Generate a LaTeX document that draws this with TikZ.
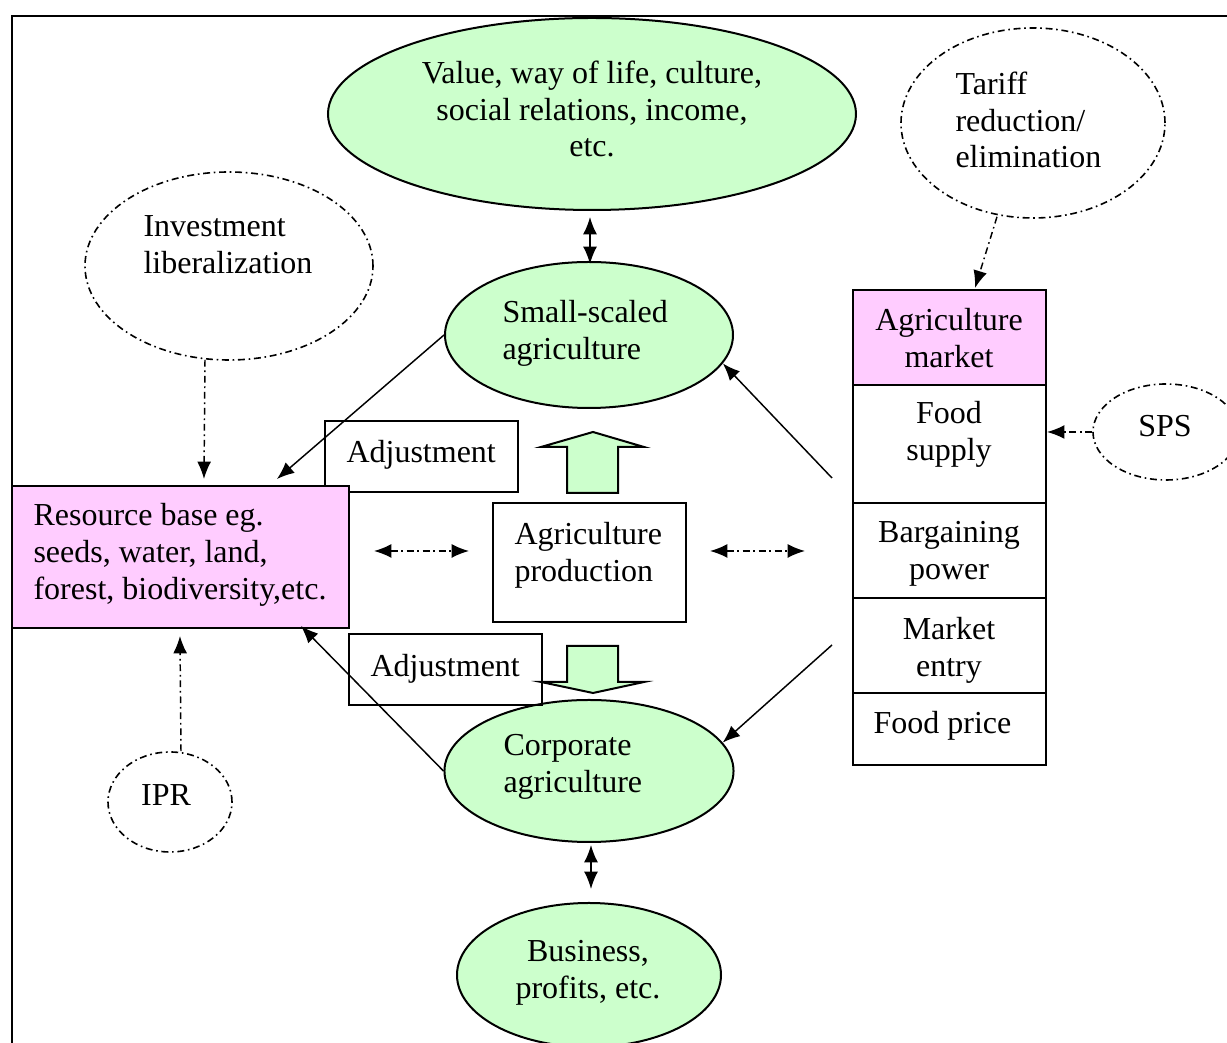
\documentclass[tikz,border=0pt]{standalone}
\usepackage{fontspec}
\setmainfont{Liberation Serif}
\usetikzlibrary{arrows.meta,shapes.geometric,calc}
\definecolor{lgreen}{RGB}{204,255,204}
\definecolor{lpink}{RGB}{255,204,255}
\begin{document}
\begin{tikzpicture}[x=0.375pt,y=-0.375pt,
  txt/.style={font=\fontsize{12}{13.8}\selectfont, inner sep=0pt, align=left},
  ctxt/.style={font=\fontsize{12}{13.8}\selectfont, inner sep=0pt, align=center},
  gell/.style={ellipse, draw, line width=0.75pt, fill=lgreen, inner sep=0pt},
  ddot/.style={dash pattern=on 2.6pt off 1.4pt on 0.6pt off 1.4pt},
  dell/.style={ellipse, draw, line width=0.6pt, ddot, inner sep=0pt},
  box/.style={rectangle, draw, line width=0.75pt, inner sep=0pt},
  arr/.style={line width=0.55pt, -{Latex[length=6.5pt,width=5.2pt]}},
  darr/.style={line width=0.55pt, {Latex[length=6.5pt,width=5.2pt]}-{Latex[length=6.5pt,width=5.2pt]}},
  blockarrow/.style={draw, line width=0.75pt, fill=lgreen, line join=miter}
]
\useasboundingbox (0,0) rectangle (1227,1043);
\clip (0,0) rectangle (1227,1043);
\fill[white] (0,0) rectangle (1227,1043);
% frame
\draw[line width=1pt] (12,1050) -- (12,16) -- (1235,16);

% ellipses
\node[gell, minimum width=198pt, minimum height=72pt] (val) at (592,114) {};
\node[ctxt] (valt) at (592,109) {Value, way of life, culture,\\social relations, income,\\etc.};

\node[dell, minimum width=99pt, minimum height=71.25pt] (tar) at (1033,123) {};
\node[txt, anchor=west] (tart) at (955,120) {Tariff\\reduction/\\elimination};

\node[dell, minimum width=108pt, minimum height=70.5pt] (inv) at (229,266) {};
\node[txt, anchor=west] (invt) at (143,245) {Investment\\liberalization};

\node[gell, minimum width=108pt, minimum height=54.75pt] (small) at (589,335) {};
\node[txt, anchor=west] (smallt) at (502,333) {Small-scaled\\agriculture};

\node[gell, minimum width=108.4pt, minimum height=53.25pt] (corp) at (589,771) {};
\node[txt, anchor=west] (corpt) at (503,767) {Corporate\\agriculture};

\node[gell, minimum width=99pt, minimum height=54pt] (bus) at (589,975) {};
\node[ctxt] (bust) at (588,973) {Business,\\profits, etc.};

\node[dell, minimum width=46.5pt, minimum height=37.5pt] (ipr) at (170,802) {};
\node[ctxt] (iprt) at (166,795) {IPR};

\node[dell, minimum width=54.75pt, minimum height=36pt] (sps) at (1166,432) {};
\node[ctxt] (spst) at (1165,426) {SPS};

% boxes
\node[box, minimum width=72.4pt, minimum height=26.6pt] (adj1) at (421.5,456.5) {};
\node[txt, anchor=west] (adj1t) at (346,455) {Adjustment};

\node[box, fill=lpink, minimum width=126.4pt, minimum height=53.25pt] (res) at (180.5,557) {};
\node[txt, anchor=west] (rest) at (33,555) {Resource base eg.\\seeds, water, land,\\forest, biodiversity,etc.};

\node[box, minimum width=72.4pt, minimum height=44.6pt] (prod) at (589.5,562.5) {};
\node[txt, anchor=west] (prodt) at (514,555.5) {Agriculture\\production};

\node[box, minimum width=72.4pt, minimum height=26.6pt] (adj2) at (445.5,669.5) {};
\node[txt, anchor=west] (adj2t) at (370,669) {Adjustment};

% market column
\node[box, fill=lpink, minimum width=72.4pt, minimum height=35.6pt] (mkt) at (949.5,337.5) {};
\node[ctxt] (mktt) at (949,338) {Agriculture\\market};
\node[box, minimum width=72.4pt, minimum height=44.25pt] (fs) at (949.5,444) {};
\node[ctxt] (fst) at (949,434) {Food\\supply};
\node[box, minimum width=72.4pt, minimum height=35.6pt] (bp) at (949.5,550.5) {};
\node[ctxt] (bpt) at (949,554) {Bargaining\\power};
\node[box, minimum width=72.4pt, minimum height=35.6pt] (me) at (949.5,645.5) {};
\node[ctxt] (met) at (949,650) {Market\\entry};
\node[box, minimum width=72.4pt, minimum height=27pt] (fp) at (949.5,729) {};
\node[ctxt] (fpt) at (942.5,726) {Food price};

% block arrows
\draw[blockarrow] (567,493) -- (567,447) -- (541,447) -- (593,432) -- (644,447) -- (618,447) -- (618,493) -- cycle;
\draw[blockarrow] (567,646) -- (567,682) -- (541,682) -- (593,693) -- (644,682) -- (618,682) -- (618,646) -- cycle;

% coordinates for free ends
\coordinate (l1) at (374,551);
\coordinate (l2) at (469,551);
\coordinate (r1) at (710,551);
\coordinate (r2) at (805,551);
\coordinate (m1) at (832,478);
\coordinate (m2) at (832,645);

% connectors
\draw[darr] ($(val.south)+(-2,6)$) -- ($(small.north)+(1,3)$);
\draw[darr] ($(corp.south)+(2,2)$) -- ($(bus.north)+(2,-13)$);
\draw[arr] (small.west) -- ($(res.north west)+(266,-6)$);
\draw[arr] (corp.west) -- ($(res.south west)+(290,-3)$);
\draw[arr] (m1) -- (small.-12);
\draw[arr] (m2) -- (corp.12);
\draw[darr, ddot] (l1) -- (l2);
\draw[darr, ddot] (r1) -- (r2);
\draw[arr, ddot] ($(inv.south)+(-24,-1)$) -- ($(res.north west)+(193,-6)$);
\draw[arr, ddot] ($(ipr.north)+(11,0)$) -- ($(res.south west)+(169,7)$);
\draw[arr, ddot] ($(tar.south)+(-36,-2)$) -- ($(mkt.north)+(25.5,-1)$);
\draw[arr, ddot] (sps.west) -- (sps.west -| fs.east);
\end{tikzpicture}
\end{document}
